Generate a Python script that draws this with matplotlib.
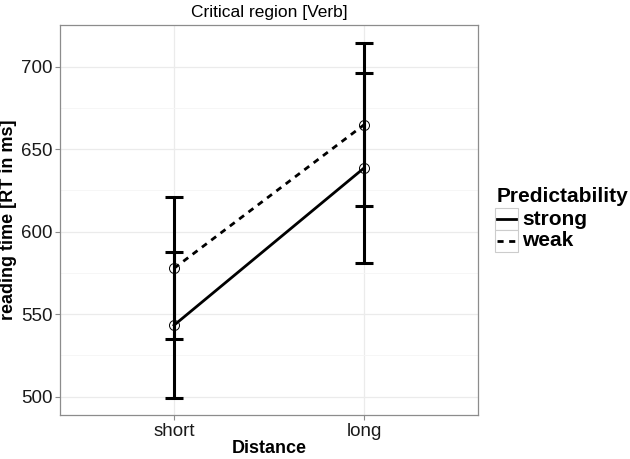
import matplotlib
matplotlib.use("Agg")
import matplotlib.pyplot as plt
from matplotlib.lines import Line2D
from matplotlib.patches import Rectangle
from matplotlib.ticker import MultipleLocator

plt.rcParams["font.family"] = ["Liberation Sans", "DejaVu Sans"]

# data
distance = ["short", "long"]
strong_mean = [543.3, 638.6]
strong_lo = [499.4, 581.2]
strong_hi = [587.7, 696.0]
weak_mean = [577.8, 664.8]
weak_lo = [534.8, 615.8]
weak_hi = [620.8, 714.5]
legend_labels = ["strong", "weak"]

W, H = 630, 459
fig = plt.figure(figsize=(W / 100, H / 100), dpi=100)
ax = fig.add_axes([60 / W, 1 - 415 / H, 418 / W, 390 / H])

xs = list(range(1, len(distance) + 1))
cap = 0.048
dash = (0, (2.2, 2.0))

def draw_series(mean, lo, hi, ls):
    for x, l, h in zip(xs, lo, hi):
        ax.plot([x, x], [l, h], color="black", lw=2.2, solid_capstyle="butt", zorder=3)
        ax.plot([x - cap, x + cap], [l, l], color="black", lw=2.2, solid_capstyle="butt", zorder=3)
        ax.plot([x - cap, x + cap], [h, h], color="black", lw=2.2, solid_capstyle="butt", zorder=3)
    ax.plot(xs, mean, color="black", lw=2.0, ls=ls, zorder=4)
    ax.plot(xs, mean, ls="none", marker="o", ms=7.2, mfc="none", mec="black", mew=0.7, zorder=5)

draw_series(strong_mean, strong_lo, strong_hi, "-")
draw_series(weak_mean, weak_lo, weak_hi, dash)

ax.set_xlim(0.4, 2.6)
ax.set_ylim(488.9, 725.3)
ax.set_xticks(xs)
ax.set_xticklabels(distance)
ax.yaxis.set_major_locator(MultipleLocator(50))
ax.yaxis.set_minor_locator(MultipleLocator(25))
ax.xaxis.set_minor_locator(MultipleLocator(0.5))

ax.grid(True, which="major", color="#ebebeb", lw=0.9, zorder=0)
ax.grid(True, which="minor", axis="y", color="#f5f5f5", lw=0.6, zorder=0)
ax.set_axisbelow(True)
for s in ax.spines.values():
    s.set_color("#8c8c8c")
    s.set_linewidth(0.9)
ax.tick_params(which="major", length=3.5, width=0.8, color="#8c8c8c",
               labelsize=13.5, labelcolor="#1a1a1a", pad=2)
ax.tick_params(which="minor", length=0)

ax.set_xlabel("Distance", fontsize=13, fontweight="bold", labelpad=0)
ax.set_ylabel("reading time [RT in ms]", fontsize=13, fontweight="bold", labelpad=3)
ax.set_title("Critical region [Verb]", fontsize=12.5, pad=6)

# legend drawn by hand, ggplot style boxes
fig.text(497 / W, 1 - 197 / H, "Predictability", fontsize=15, fontweight="bold",
         va="center", ha="left")
key_x0, key_w, key_h = 495, 23, 22
for i, (lab, ls) in enumerate(zip(legend_labels, ["-", dash])):
    y0 = 208 + i * key_h
    fig.patches.append(Rectangle((key_x0 / W, 1 - (y0 + key_h) / H), key_w / W, key_h / H,
                                 transform=fig.transFigure, facecolor="white",
                                 edgecolor="#cccccc", lw=0.8))
    yc = 1 - (y0 + key_h / 2) / H
    fig.lines.append(Line2D([(key_x0 + 2) / W, (key_x0 + key_w - 2) / W], [yc, yc],
                            transform=fig.transFigure, color="black", lw=2.0, ls=ls))
    fig.text((key_x0 + key_w + 4) / W, yc, lab, fontsize=15, fontweight="bold",
             va="center", ha="left")

fig.savefig("out.png", dpi=100)
